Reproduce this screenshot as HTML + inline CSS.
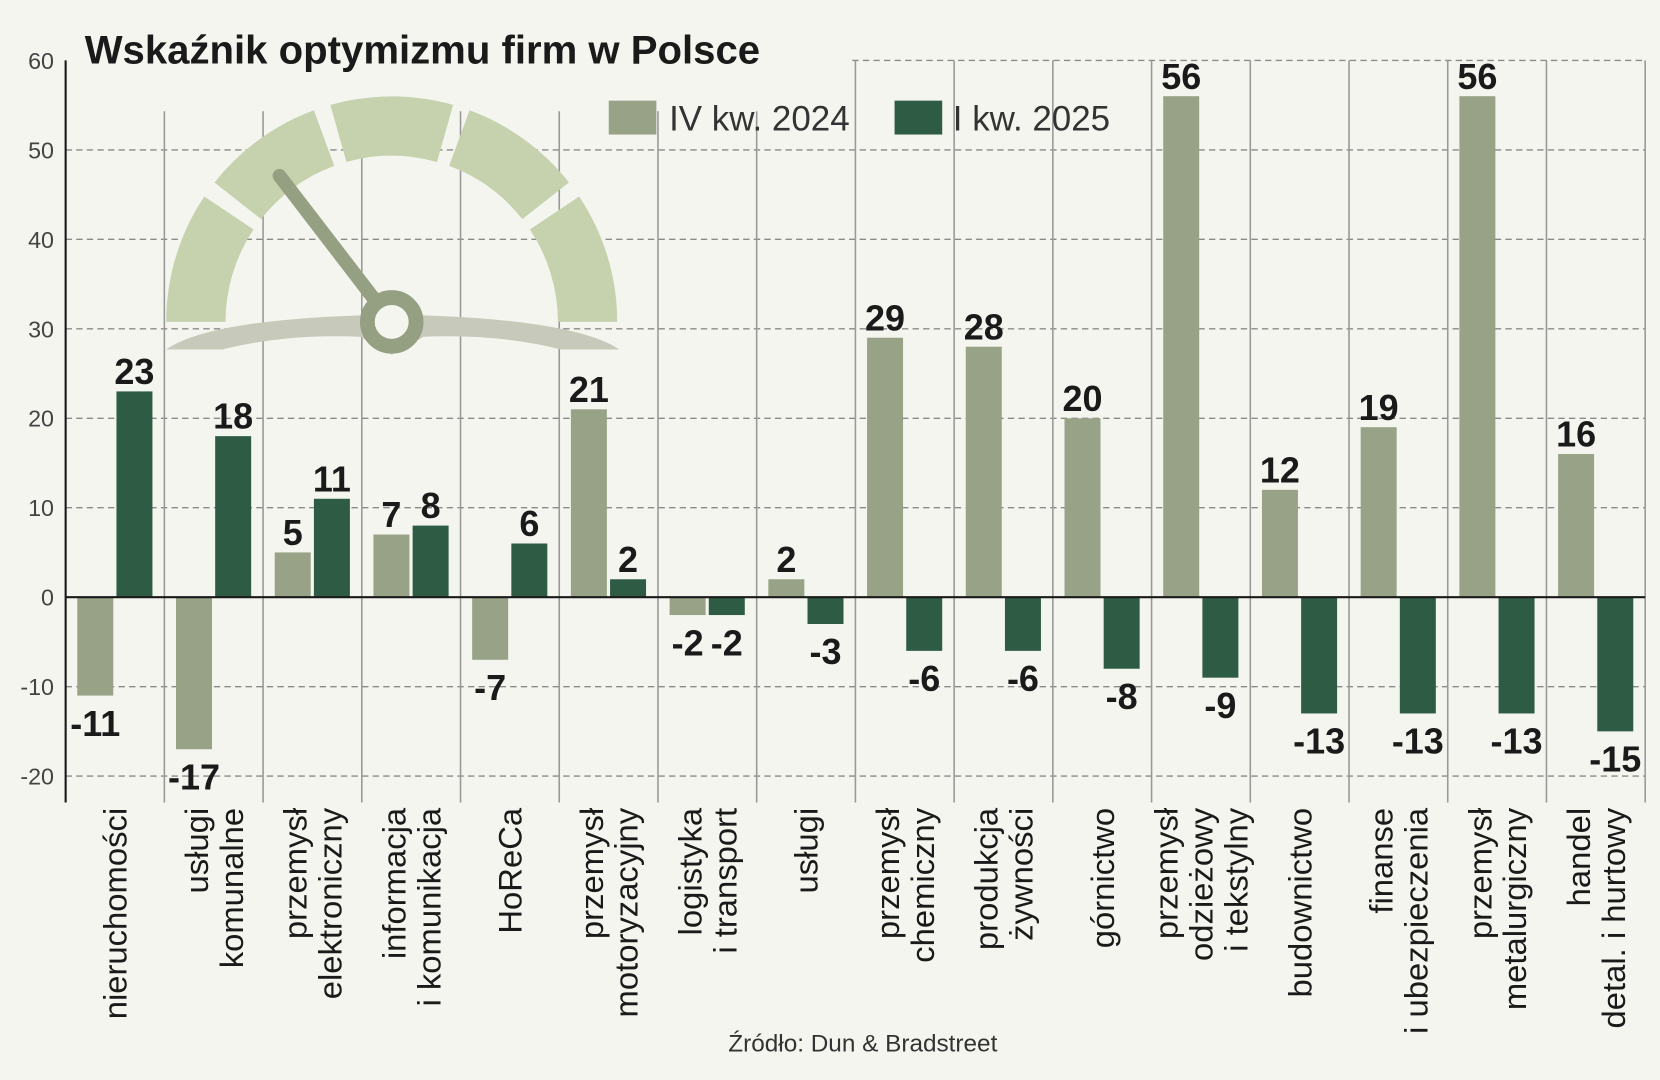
<!DOCTYPE html>
<html><head><meta charset="utf-8"><style>
html,body{margin:0;padding:0;background:#f5f5f0;}
svg{display:block;}
text{font-family:"Liberation Sans Narrow","Liberation Sans",sans-serif;}
</style></head><body>
<svg id="chart" width="1660" height="1080" viewBox="0 0 1568 1020" xmlns="http://www.w3.org/2000/svg">
<rect x="0" y="0" width="1568" height="1020" fill="#f5f5f0"/>
<g id="grid"></g>
<g id="gauge"></g>
<g id="bars"></g>
<g id="labels"></g>
<g id="cats"></g>
<g id="yaxis"></g>
<text x="80" y="60" font-size="38" font-weight="bold" fill="#1a1a1a" textLength="638" lengthAdjust="spacingAndGlyphs">Wskaźnik optymizmu firm w Polsce</text>
<g>
<rect x="575" y="95" width="45" height="32" fill="#97a287"/>
<text x="632" y="123" font-size="33" fill="#333" font-family="Liberation Sans" font-weight="300">IV kw. 2024</text>
<rect x="845" y="95" width="45" height="32" fill="#2e5b44"/>
<text x="900" y="123" font-size="33" fill="#333" font-family="Liberation Sans">I kw. 2025</text>
</g>
<text x="815" y="993" font-size="23" fill="#333" text-anchor="middle">Źródło: Dun &amp; Bradstreet</text>
</svg>
<script>
const categories = [["nieruchomości"],["usługi","komunalne"],["przemysł","elektroniczny"],["informacja","i komunikacja"],["HoReCa"],["przemysł","motoryzacyjny"],["logistyka","i transport"],["usługi"],["przemysł","chemiczny"],["produkcja","żywności"],["górnictwo"],["przemysł","odzieżowy","i tekstylny"],["budownictwo"],["finanse","i ubezpieczenia"],["przemysł","metalurgiczny"],["handel","detal. i hurtowy"]];
const q4_2024 = [-11,-17,5,7,-7,21,-2,2,29,28,20,56,12,19,56,16];
const q1_2025 = [23,18,11,8,6,2,-2,-3,-6,-6,-8,-9,-13,-13,-13,-15];
const yTicks = [-20,-10,0,10,20,30,40,50,60];

const NS="http://www.w3.org/2000/svg";
const X0=62, X1=1554, CW=(X1-X0)/categories.length;
const y = v => 564 - v*8.45;
const xCat = i => X0 + i*CW;
function mk(tag, attrs, parent){const e=document.createElementNS(NS,tag);for(const k in attrs)e.setAttribute(k,attrs[k]);parent.appendChild(e);return e;}
const grid=document.getElementById('grid'), bars=document.getElementById('bars'), labels=document.getElementById('labels'), cats=document.getElementById('cats'), yaxis=document.getElementById('yaxis'), gauge=document.getElementById('gauge');

yTicks.forEach(t=>{
  if(t!==0){
    const l=mk('line',{x1:t===60?805:X0,x2:X1,y1:y(t),y2:y(t),stroke:'#8a8a8a','stroke-width':1.3,'stroke-dasharray':'6,4'},grid);
    
    
  }
  const tx=mk('text',{x:51,y:y(t)+8,'font-size':22,fill:'#444','text-anchor':'end','font-family':'Liberation Sans'},yaxis);
  tx.textContent=t;
  
  
});
for(let i=1;i<=categories.length;i++){
  const x=xCat(i);
  const s=mk('line',{x1:x,x2:x,y1:x<805?105:y(60),y2:758,stroke:'#999','stroke-width':1.5},grid);
  
  
}

// gauge
(function(){
  const cx=370, cy=304, R=213, r=157;
  const sh=mk('path',{d:`M157 330 Q200 300 370 297 Q540 300 585 330 L530 330 Q470 315 400 318 L370 335 L340 318 Q270 315 210 330 Z`,fill:'#c7cabb'},gauge);
  
  
  const gap=2.2;
  for(let k=0;k<5;k++){
    const a0=(180-k*36-(k===0?0:gap))*Math.PI/180, a1=(180-(k+1)*36+(k===4?0:gap))*Math.PI/180;
    const p=(a,rad)=>[cx+rad*Math.cos(a), cy-rad*Math.sin(a)];
    const [ax,ay]=p(a0,R),[bx,by]=p(a1,R),[cx2,cy2]=p(a1,r),[dx,dy]=p(a0,r);
    const seg=mk('path',{d:`M${ax} ${ay} A${R} ${R} 0 0 1 ${bx} ${by} L${cx2} ${cy2} A${r} ${r} 0 0 0 ${dx} ${dy} Z`,fill:'#c5d2ad'},gauge);
    
    
  }
  const n=mk('line',{x1:264,y1:166,x2:cx,y2:cy,stroke:'#959f82','stroke-width':13,'stroke-linecap':'round'},gauge);
  
  
  const h=mk('circle',{cx:cx,cy:cy,r:23,fill:'#f5f5f0',stroke:'#959f82','stroke-width':14},gauge);
  
  
})();

const BW=34;
function bar(i, v, off, color, name){
  const x=xCat(i)+off, top=Math.min(y(v),y(0)), h=Math.abs(y(v)-y(0));
  const b=mk('rect',{x:x,y:top,width:BW,height:h,fill:color},bars);
  
  
  const t=mk('text',{x:x+BW/2,y:v>=0?y(v)-7:y(v)+38,'font-size':34,'font-weight':'bold',fill:'#1a1a1a','text-anchor':'middle'},labels);
  t.textContent=v;
  
  
}
for(let i=0;i<categories.length;i++){
  bar(i,q4_2024[i],11,'#97a287','bar-q4-2024');
  bar(i,q1_2025[i],48,'#2e5b44','bar-q1-2025');
  const lines=categories[i], n=lines.length;
  const cxm=xCat(i)+CW/2;
  lines.forEach((ln,j)=>{
    const bx=cxm+11+(j-(n-1)/2)*33;
    const t=mk('text',{x:0,y:0,'font-size':31,fill:'#1a1a1a','text-anchor':'end',transform:`translate(${bx},763) rotate(-90)`},cats);
    t.textContent=ln;
    
    
  });
}
const ax=mk('line',{x1:X0,x2:X0,y1:y(60),y2:758,stroke:'#1a1a1a','stroke-width':2},yaxis);


const zl=mk('line',{x1:X0,x2:X1,y1:y(0),y2:y(0),stroke:'#1a1a1a','stroke-width':2},yaxis);


</script>
</body></html>
